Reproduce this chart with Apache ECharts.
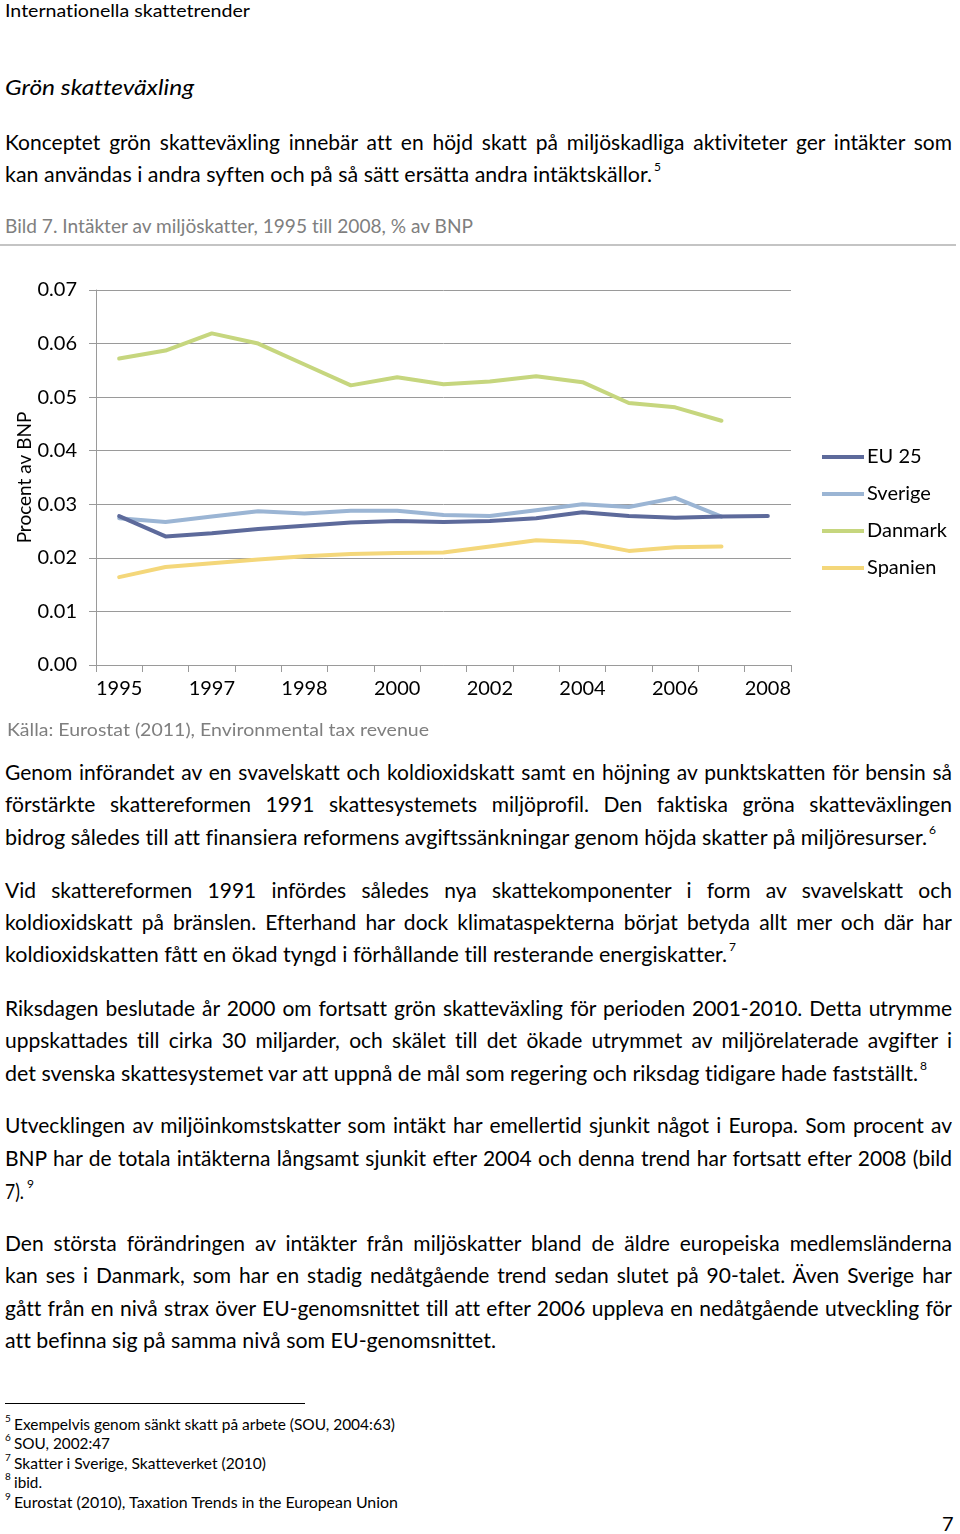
<!DOCTYPE html>
<html>
<head>
<meta charset="utf-8">
<script src="https://cdn.jsdelivr.net/npm/echarts@6/dist/echarts.min.js"></script>
<style>
  html, body { margin:0; padding:0; background:#fff; }
  body { width:960px; height:1534px; position:relative; overflow:hidden; font-family: Lato, "Open Sans", sans-serif; color:#000; font-variant-ligatures:none; font-feature-settings:"liga" 0, "clig" 0; }
  .ln { position:absolute; left:5px; white-space:nowrap; font-size:21px; line-height:24px; transform-origin:0 50%; }
  .sup { position:absolute; font-size:12px; line-height:14px; white-space:nowrap; }
  .fn { position:absolute; left:14px; white-space:nowrap; font-size:16px; line-height:20px; transform-origin:0 50%; }
  #chart { position:absolute; left:0; top:260px; width:960px; height:460px; }
</style>
</head>
<body>
<div class="ln" style="top:1px;font-size:17px;line-height:20px;" data-w="245">Internationella skattetrender</div>
<div class="ln" style="top:75px;font-size:22px;font-style:italic;" data-w="189">Grön skatteväxling</div>

<div class="ln" style="top:130px" data-w="947" data-j="1">Konceptet grön skatteväxling innebär att en höjd skatt på miljöskadliga aktiviteter ger intäkter som</div>
<div class="ln" style="top:162px" data-w="647">kan användas i andra syften och på så sätt ersätta andra intäktskällor.</div>
<div class="sup" style="left:654px;top:160px;">5</div>

<div class="ln" style="top:215px;font-size:18.5px;line-height:22px;color:#7f7f7f;" data-w="468">Bild 7. Intäkter av miljöskatter, 1995 till 2008, % av BNP</div>
<div style="position:absolute;left:0;top:244px;width:956px;height:2px;background:#c4c4c4;"></div>

<div id="chart"></div>

<div class="ln" style="left:7px;top:719px;font-size:17.5px;line-height:22px;color:#7f7f7f;" data-w="422">Källa: Eurostat (2011), Environmental tax revenue</div>

<div class="ln" style="top:760px" data-w="947" data-j="1">Genom införandet av en svavelskatt och koldioxidskatt samt en höjning av punktskatten för bensin så</div>
<div class="ln" style="top:792px" data-w="947" data-j="1">förstärkte skattereformen 1991 skattesystemets miljöprofil. Den faktiska gröna skatteväxlingen</div>
<div class="ln" style="top:825px" data-w="922">bidrog således till att finansiera reformens avgiftssänkningar genom höjda skatter på miljöresurser.</div>
<div class="sup" style="left:929px;top:823px;">6</div>

<div class="ln" style="top:878px" data-w="947" data-j="1">Vid skattereformen 1991 infördes således nya skattekomponenter i form av svavelskatt och</div>
<div class="ln" style="top:910px" data-w="947" data-j="1">koldioxidskatt på bränslen. Efterhand har dock klimataspekterna börjat betyda allt mer och där har</div>
<div class="ln" style="top:942px" data-w="722">koldioxidskatten fått en ökad tyngd i förhållande till resterande energiskatter.</div>
<div class="sup" style="left:729px;top:940px;">7</div>

<div class="ln" style="top:996px" data-w="947" data-j="1">Riksdagen beslutade år 2000 om fortsatt grön skatteväxling för perioden 2001-2010. Detta utrymme</div>
<div class="ln" style="top:1028px" data-w="947" data-j="1">uppskattades till cirka 30 miljarder, och skälet till det ökade utrymmet av miljörelaterade avgifter i</div>
<div class="ln" style="top:1061px" data-w="913">det svenska skattesystemet var att uppnå de mål som regering och riksdag tidigare hade fastställt.</div>
<div class="sup" style="left:920px;top:1059px;">8</div>

<div class="ln" style="top:1113px" data-w="947" data-j="1">Utvecklingen av miljöinkomstskatter som intäkt har emellertid sjunkit något i Europa. Som procent av</div>
<div class="ln" style="top:1146px" data-w="947" data-j="1">BNP har de totala intäkterna långsamt sjunkit efter 2004 och denna trend har fortsatt efter 2008 (bild</div>
<div class="ln" style="top:1179px" data-w="19">7).</div>
<div class="sup" style="left:27px;top:1177px;">9</div>

<div class="ln" style="top:1231px" data-w="947" data-j="1">Den största förändringen av intäkter från miljöskatter bland de äldre europeiska medlemsländerna</div>
<div class="ln" style="top:1263px" data-w="947" data-j="1">kan ses i Danmark, som har en stadig nedåtgående trend sedan slutet på 90-talet. Även Sverige har</div>
<div class="ln" style="top:1296px" data-w="947" data-j="1">gått från en nivå strax över EU-genomsnittet till att efter 2006 uppleva en nedåtgående utveckling för</div>
<div class="ln" style="top:1328px" data-w="491">att befinna sig på samma nivå som EU-genomsnittet.</div>

<div style="position:absolute;left:5px;top:1403px;width:300px;height:1px;background:#000;"></div>
<div class="sup" style="left:5px;top:1411px;font-size:10px;">5</div>
<div class="fn" style="top:1414px" data-w="381">Exempelvis genom sänkt skatt på arbete (SOU, 2004:63)</div>
<div class="sup" style="left:5px;top:1430px;font-size:10px;">6</div>
<div class="fn" style="top:1433px" data-w="96">SOU, 2002:47</div>
<div class="sup" style="left:5px;top:1450px;font-size:10px;">7</div>
<div class="fn" style="top:1453px" data-w="252">Skatter i Sverige, Skatteverket (2010)</div>
<div class="sup" style="left:5px;top:1469px;font-size:10px;">8</div>
<div class="fn" style="top:1472px" data-w="28">ibid.</div>
<div class="sup" style="left:5px;top:1489px;font-size:10px;">9</div>
<div class="fn" style="top:1492px" data-w="384">Eurostat (2010), Taxation Trends in the European Union</div>

<div class="ln" style="left:942px;top:1511px;font-size:20px;">7</div>

<script>
// ---- data ----
const categories = ['p01','p02','p03','p04','p05','p06','p07','p08','p09','p10','p11','p12','p13','p14','p15'];
const xTickLabels = ['1995','1997','1998','2000','2002','2004','2006','2008'];
const yTicks = [0, 0.01, 0.02, 0.03, 0.04, 0.05, 0.06, 0.07];
const seriesNames = ['EU 25', 'Sverige', 'Danmark', 'Spanien'];
const eu25    = [0.0278,0.0240,0.0246,0.0254,0.0260,0.0266,0.0269,0.0267,0.0269,0.0274,0.0285,0.0278,0.0275,0.0277,0.0278];
const sverige = [0.0274,0.0267,0.0277,0.0287,0.0283,0.0288,0.0288,0.0280,0.0278,0.0289,0.0300,0.0295,0.0312,0.0277,null];
const danmark = [0.0572,0.0587,0.0619,0.0600,0.0561,0.0522,0.0537,0.0524,0.0529,0.0539,0.0528,0.0489,0.0481,0.0456,null];
const spanien = [0.0164,0.0183,0.0190,0.0197,0.0203,0.0207,0.0209,0.0210,0.0221,0.0233,0.0229,0.0213,0.0220,0.0221,null];
const colors = ['#5d6a9b', '#9bb5d4', '#c6d67e', '#f4d77a'];

// ---- fit text lines ----
document.querySelectorAll('.ln, .fn').forEach(el => {
  const target = parseFloat(el.dataset.w);
  if (!target) return;
  const w0 = el.getBoundingClientRect().width;
  const spaces = (el.textContent.match(/ /g) || []).length;
  if (el.dataset.j && w0 < target && spaces > 0) {
    el.style.wordSpacing = ((target - w0) / spaces) + 'px';
  } else {
    el.style.transform = 'scaleX(' + (target / w0) + ')';
  }
});

// ---- chart ----
const chart = echarts.init(document.getElementById('chart'), null, { renderer: 'canvas' });
const font = 'Lato';
const seriesData = [eu25, sverige, danmark, spanien];
chart.setOption({
  animation: false,
  color: colors,
  grid: { left: 96, right: 169, top: 30, bottom: 55, containLabel: false },
  legend: {
    orient: 'vertical',
    left: 822,
    top: 186,
    padding: 0,
    icon: 'rect',
    itemWidth: 42,
    itemHeight: 4,
    itemGap: 15,
    data: seriesNames,
    textStyle: { fontFamily: font, fontSize: 20, color: '#000', lineHeight: 22, padding: [0, 0, 0, -2] }
  },
  xAxis: {
    type: 'category',
    data: categories,
    boundaryGap: true,
    axisLine: { lineStyle: { color: '#9a9a9a', width: 1 } },
    axisTick: { show: true, interval: 0, length: 7, alignWithLabel: false, lineStyle: { color: '#9a9a9a' } },
    axisLabel: {
      interval: 0,
      margin: 14,
      fontFamily: font, fontSize: 20, color: '#000',
      formatter: (v, i) => (i % 2 === 0 ? xTickLabels[i / 2] : '')
    },
    splitLine: { show: false }
  },
  yAxis: {
    type: 'value',
    min: yTicks[0],
    max: yTicks[yTicks.length - 1],
    interval: 0.01,
    name: 'Procent av BNP',
    nameLocation: 'middle',
    nameGap: 62,
    nameMoveOverlap: false,
    nameTextStyle: { fontFamily: font, fontSize: 19, color: '#000' },
    axisLine: { show: true, lineStyle: { color: '#9a9a9a', width: 1 } },
    axisTick: { show: true, length: 7, lineStyle: { color: '#9a9a9a' } },
    axisLabel: { margin: 19, fontFamily: font, fontSize: 20, color: '#000', formatter: v => v.toFixed(2) },
    splitLine: { show: true, lineStyle: { color: '#9a9a9a', width: 1 } }
  },
  series: seriesNames.map((n, i) => ({
    name: n,
    type: 'line',
    data: seriesData[i],
    symbol: 'none',
    connectNulls: false,
    lineStyle: { width: 4, color: colors[i], cap: 'round', join: 'round' },
    itemStyle: { color: colors[i] },
    z: 2 + (i === 0 ? 1 : 0)
  }))
});
</script>
</body>
</html>
